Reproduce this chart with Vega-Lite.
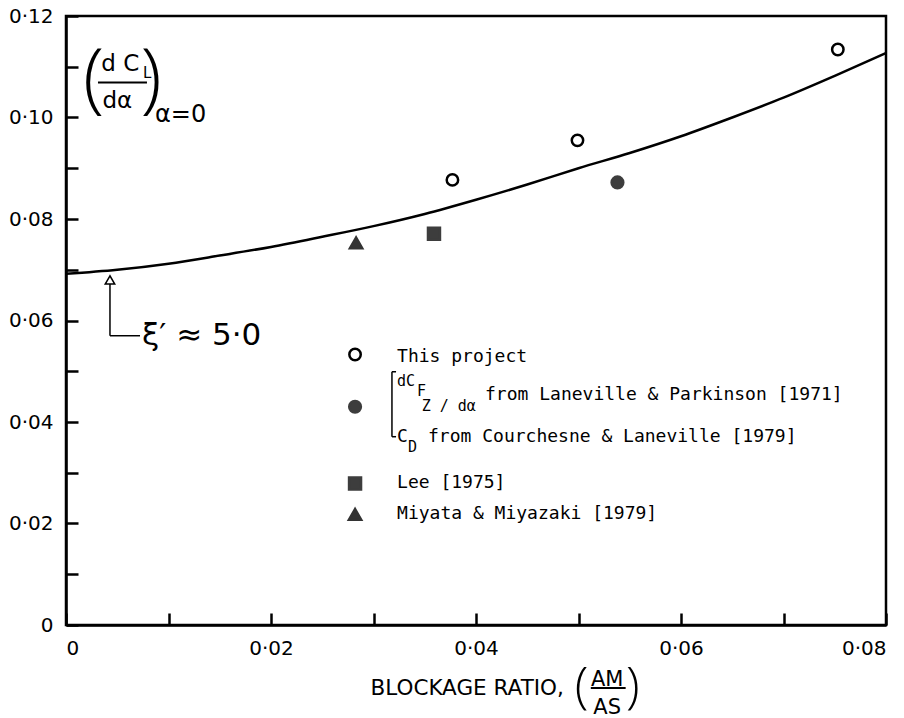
{
  "$schema": "https://vega.github.io/schema/vega-lite/v6.json",
  "width": 820,
  "height": 609,
  "autosize": "none",
  "padding": {"left": 66, "top": 16, "right": 18, "bottom": 93},
  "background": "white",
  "config": {
    "view": {"stroke": "black", "strokeWidth": 2.5},
    "axis": {"labelFont": "DejaVu Sans", "labelFontSize": 20, "labelColor": "black", "titleFont": "DejaVu Sans", "titleFontWeight": "normal", "titleColor": "black", "domainColor": "black", "domainWidth": 2.5, "tickColor": "black", "tickWidth": 2.5, "grid": false}
  },
  "datasets": {
    "curve": [
      {"x": 0, "y": 0.0692}, {"x": 0.005, "y": 0.0700}, {"x": 0.01, "y": 0.0712}, {"x": 0.015, "y": 0.0728},
      {"x": 0.02, "y": 0.0745}, {"x": 0.025, "y": 0.0765}, {"x": 0.03, "y": 0.0786}, {"x": 0.035, "y": 0.0810},
      {"x": 0.04, "y": 0.0838}, {"x": 0.045, "y": 0.0868}, {"x": 0.05, "y": 0.0900}, {"x": 0.055, "y": 0.0930},
      {"x": 0.06, "y": 0.0963}, {"x": 0.065, "y": 0.1000}, {"x": 0.07, "y": 0.1039}, {"x": 0.075, "y": 0.1082},
      {"x": 0.08, "y": 0.1127}
    ],
    "points": [
      {"series": "This project", "x": 0.0377, "y": 0.0877},
      {"series": "This project", "x": 0.0499, "y": 0.0955},
      {"series": "This project", "x": 0.0753, "y": 0.1134},
      {"series": "Laneville & Parkinson / Courchesne & Laneville", "x": 0.0538, "y": 0.0872},
      {"series": "Lee [1975]", "x": 0.0359, "y": 0.0771},
      {"series": "Miyata & Miyazaki [1979]", "x": 0.0283, "y": 0.0753}
    ],
    "legendSymbols": [
      {"series": "This project", "x": 0.0282, "y": 0.0533},
      {"series": "Laneville & Parkinson / Courchesne & Laneville", "x": 0.0282, "y": 0.0430},
      {"series": "Lee [1975]", "x": 0.0282, "y": 0.0279},
      {"series": "Miyata & Miyazaki [1979]", "x": 0.0282, "y": 0.0218}
    ],
    "legendText": [
      {"text": "This project", "x": 0.0323, "y": 0.0529},
      {"text": "from Laneville & Parkinson [1971]", "x": 0.04088, "y": 0.04536},
      {"text": "C", "x": 0.0323, "y": 0.03708},
      {"text": "from Courchesne & Laneville [1979]", "x": 0.03532, "y": 0.03708},
      {"text": "Lee [1975]", "x": 0.0323, "y": 0.0280},
      {"text": "Miyata & Miyazaki [1979]", "x": 0.0323, "y": 0.0219}
    ],
    "legendSub": [
      {"text": "dC", "x": 0.0323, "y": 0.04800},
      {"text": "F", "x": 0.03424, "y": 0.04610},
      {"text": "Z / dα", "x": 0.03470, "y": 0.04320},
      {"text": "D", "x": 0.03337, "y": 0.03500}
    ],
    "rules": [
      {"x": 0.0318, "x2": 0.0318, "y": 0.0499, "y2": 0.0371, "w": 1.5},
      {"x": 0.0318, "x2": 0.0322, "y": 0.0499, "y2": 0.0499, "w": 1.5},
      {"x": 0.0318, "x2": 0.0322, "y": 0.0371, "y2": 0.0371, "w": 1.5},
      {"x": 0.00429, "x2": 0.00429, "y": 0.0674, "y2": 0.0570, "w": 1.5},
      {"x": 0.00429, "x2": 0.00722, "y": 0.0570, "y2": 0.0570, "w": 1.5},
      {"x": 0.00312, "x2": 0.0079, "y": 0.1069, "y2": 0.1069, "w": 2},
      {"x": 0.0512, "x2": 0.0546, "y": -0.01243, "y2": -0.01243, "w": 2}
    ],
    "arrowHead": [{"x": 0.00429, "y": 0.0680}],
    "bigText": [
      {"text": "d C", "x": 0.00345, "y": 0.11045},
      {"text": "dα", "x": 0.00355, "y": 0.10316}
    ],
    "fracText": [
      {"text": "AM", "x": 0.0528, "y": -0.01085},
      {"text": "AS", "x": 0.0528, "y": -0.01637}
    ],
    "smallText": [
      {"text": "L", "x": 0.00752, "y": 0.1087}
    ],
    "alphaText": [
      {"text": "α=0", "x": 0.00868, "y": 0.1004}
    ],
    "parenY": [
      {"text": "(", "x": 0.00270, "y": 0.1071},
      {"text": ")", "x": 0.0083, "y": 0.1071}
    ],
    "parenX": [
      {"text": "(", "x": 0.0503, "y": -0.0124},
      {"text": ")", "x": 0.0553, "y": -0.0124}
    ],
    "xiText": [
      {"text": "ξ′ ≈ 5·0", "x": 0.00741, "y": 0.0570}
    ]
  },
  "encoding": {
    "x": {
      "field": "x", "type": "quantitative",
      "scale": {"domain": [0, 0.08], "nice": false, "zero": false},
      "axis": {
        "values": [0, 0.01, 0.02, 0.03, 0.04, 0.05, 0.06, 0.07, 0.08],
        "tickSize": -12, "labelPadding": 25,
        "labelExpr": "datum.value == 0 ? '0' : (round(datum.value*100) % 2 == 0 ? replace(format(datum.value, '.2f'), '.', '·') : '')",
        "title": "BLOCKAGE RATIO,", "titleFontSize": 21.5, "titleX": 304, "titleY": 63,
        "titleAlign": "left", "titleBaseline": "middle", "titleAnchor": "start"
      }
    },
    "y": {
      "field": "y", "type": "quantitative",
      "scale": {"domain": [0, 0.12], "nice": false, "zero": false},
      "axis": {
        "values": [0, 0.01, 0.02, 0.03, 0.04, 0.05, 0.06, 0.07, 0.08, 0.09, 0.1, 0.11, 0.12],
        "tickSize": -12, "labelPadding": 25,
        "labelExpr": "datum.value == 0 ? '0' : (round(datum.value*100) % 2 == 0 ? replace(format(datum.value, '.2f'), '.', '·') : '')",
        "title": null
      }
    }
  },
  "layer": [
    {
      "data": {"name": "curve"},
      "mark": {"type": "line", "color": "black", "strokeWidth": 2.5, "interpolate": "monotone"}
    },
    {
      "data": {"name": "points"},
      "mark": {"type": "point", "filled": false, "strokeWidth": 2.5, "opacity": 1},
      "encoding": {
        "shape": {"field": "series", "type": "nominal", "legend": null,
          "scale": {"domain": ["This project", "Laneville & Parkinson / Courchesne & Laneville", "Lee [1975]", "Miyata & Miyazaki [1979]"], "range": ["circle", "circle", "square", "triangle-up"]}},
        "fill": {"field": "series", "type": "nominal", "legend": null,
          "scale": {"domain": ["This project", "Laneville & Parkinson / Courchesne & Laneville", "Lee [1975]", "Miyata & Miyazaki [1979]"], "range": ["white", "#3d3d3d", "#3d3d3d", "#333333"]}},
        "stroke": {"field": "series", "type": "nominal", "legend": null,
          "scale": {"domain": ["This project", "Laneville & Parkinson / Courchesne & Laneville", "Lee [1975]", "Miyata & Miyazaki [1979]"], "range": ["black", "#3d3d3d", "#3d3d3d", "#333333"]}},
        "size": {"field": "series", "type": "nominal", "legend": null,
          "scale": {"domain": ["This project", "Laneville & Parkinson / Courchesne & Laneville", "Lee [1975]", "Miyata & Miyazaki [1979]"], "range": [130, 150, 160, 190]}}
      }
    },
    {
      "data": {"name": "legendSymbols"},
      "mark": {"type": "point", "filled": false, "strokeWidth": 2.5, "opacity": 1},
      "encoding": {
        "shape": {"field": "series", "type": "nominal", "legend": null},
        "fill": {"field": "series", "type": "nominal", "legend": null},
        "stroke": {"field": "series", "type": "nominal", "legend": null},
        "size": {"field": "series", "type": "nominal", "legend": null}
      }
    },
    {
      "data": {"name": "rules"},
      "mark": {"type": "rule", "color": "black"},
      "encoding": {
        "x2": {"field": "x2"},
        "y2": {"field": "y2"},
        "strokeWidth": {"field": "w", "type": "quantitative", "scale": null, "legend": null}
      }
    },
    {
      "data": {"name": "arrowHead"},
      "mark": {"type": "point", "shape": "triangle-up", "size": 90, "filled": true, "fill": "white", "stroke": "black", "strokeWidth": 1.5, "opacity": 1}
    },
    {
      "data": {"name": "legendText"},
      "mark": {"type": "text", "font": "DejaVu Sans Mono", "fontSize": 18, "align": "left", "baseline": "middle", "color": "black"},
      "encoding": {"text": {"field": "text"}}
    },
    {
      "data": {"name": "legendSub"},
      "mark": {"type": "text", "font": "DejaVu Sans Mono", "fontSize": 15, "align": "left", "baseline": "middle", "color": "black"},
      "encoding": {"text": {"field": "text"}}
    },
    {
      "data": {"name": "bigText"},
      "mark": {"type": "text", "font": "DejaVu Sans", "fontSize": 23, "align": "left", "baseline": "middle", "color": "black"},
      "encoding": {"text": {"field": "text"}}
    },
    {
      "data": {"name": "fracText"},
      "mark": {"type": "text", "font": "DejaVu Sans", "fontSize": 21, "align": "center", "baseline": "middle", "color": "black"},
      "encoding": {"text": {"field": "text"}}
    },
    {
      "data": {"name": "smallText"},
      "mark": {"type": "text", "font": "DejaVu Sans", "fontSize": 15, "align": "left", "baseline": "middle", "color": "black"},
      "encoding": {"text": {"field": "text"}}
    },
    {
      "data": {"name": "alphaText"},
      "mark": {"type": "text", "font": "DejaVu Sans", "fontSize": 24, "align": "left", "baseline": "middle", "color": "black"},
      "encoding": {"text": {"field": "text"}}
    },
    {
      "data": {"name": "parenY"},
      "mark": {"type": "text", "font": "Open Sans", "fontWeight": 300, "fontSize": 78, "align": "center", "baseline": "middle", "color": "black"},
      "encoding": {"text": {"field": "text"}}
    },
    {
      "data": {"name": "parenX"},
      "mark": {"type": "text", "font": "Open Sans", "fontWeight": 300, "fontSize": 50, "align": "center", "baseline": "middle", "color": "black"},
      "encoding": {"text": {"field": "text"}}
    },
    {
      "data": {"name": "xiText"},
      "mark": {"type": "text", "font": "DejaVu Sans", "fontSize": 31, "align": "left", "baseline": "middle", "color": "black"},
      "encoding": {"text": {"field": "text"}}
    }
  ]
}
